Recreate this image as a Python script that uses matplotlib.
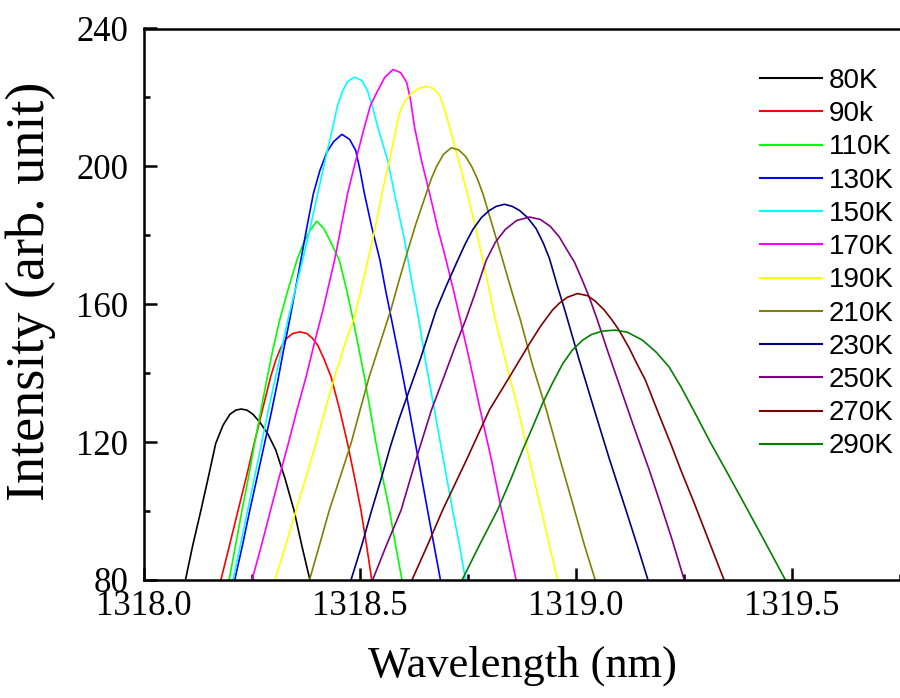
import matplotlib
matplotlib.use("Agg")
import matplotlib.pyplot as plt
from matplotlib.ticker import MultipleLocator

labels = ["80K", "90k", "110K", "130K", "150K", "170K", "190K", "210K",
          "230K", "250K", "270K", "290K"]
colors = ["#000000", "#ff0000", "#00ff00", "#0000ff", "#00ffff", "#ff00ff",
          "#ffff00", "#808000", "#000080", "#800080", "#800000", "#008000"]

x80 = [1318.097, 1318.114, 1318.133, 1318.151, 1318.167, 1318.184, 1318.200,
       1318.214, 1318.226, 1318.239, 1318.253, 1318.269, 1318.288, 1318.306,
       1318.327, 1318.348, 1318.366, 1318.385]
y80 = [80, 90.1, 100.3, 110.4, 119.6, 124.9, 128.1, 129.3, 129.6, 129.3,
       128.1, 125.8, 122.3, 117.7, 109.6, 100.3, 90.1, 80]

x90 = [1318.179, 1318.199, 1318.219, 1318.238, 1318.256, 1318.275, 1318.294,
       1318.306, 1318.318, 1318.331, 1318.345, 1318.362, 1318.378, 1318.391,
       1318.403, 1318.417, 1318.434, 1318.454, 1318.472, 1318.488, 1318.503,
       1318.516, 1318.528]
y90 = [80, 90.1, 100.3, 109.9, 119.6, 129.3, 138.9, 143.8, 147.5, 150.1,
       151.5, 152.0, 151.5, 150.1, 148.1, 144.3, 138.9, 129.3, 119.6, 109.9,
       100.3, 90.1, 80]

x110 = [1318.198, 1318.213, 1318.228, 1318.243, 1318.257, 1318.271, 1318.285,
        1318.299, 1318.315, 1318.334, 1318.355, 1318.371, 1318.385, 1318.401,
        1318.417, 1318.431, 1318.453, 1318.470, 1318.485, 1318.498, 1318.511,
        1318.538, 1318.553, 1318.569, 1318.583, 1318.598]
y110 = [80, 90.1, 100.3, 109.9, 119.6, 128.8, 138.0, 146.7, 155.4, 164.1,
        172.8, 178.0, 181.4, 184.1, 182.0, 178.6, 172.8, 164.1, 155.4, 147.2,
        138.9, 119.6, 109.9, 100.3, 90.1, 80]

x130 = [1318.211, 1318.229, 1318.246, 1318.263, 1318.280, 1318.296, 1318.311,
        1318.324, 1318.338, 1318.351, 1318.364, 1318.378, 1318.393, 1318.408,
        1318.424, 1318.440, 1318.459, 1318.477, 1318.491, 1318.501, 1318.511,
        1318.528, 1318.547, 1318.560, 1318.574, 1318.595, 1318.615, 1318.636,
        1318.657, 1318.672, 1318.687]
y130 = [80, 90.1, 100.3, 109.9, 119.6, 128.8, 138.0, 146.7, 155.4, 164.1,
        172.8, 182.4, 192.1, 198.8, 204.1, 207.2, 209.3, 207.8, 204.6, 198.8,
        192.1, 182.4, 172.8, 164.1, 155.4, 142.3, 129.3, 114.8, 100.3, 90.1, 80]

x150 = [1318.207, 1318.224, 1318.241, 1318.257, 1318.273, 1318.288, 1318.304,
        1318.319, 1318.334, 1318.351, 1318.368, 1318.386, 1318.403, 1318.420,
        1318.438, 1318.449, 1318.461, 1318.472, 1318.488, 1318.505, 1318.518,
        1318.530, 1318.542, 1318.553, 1318.565, 1318.583, 1318.604, 1318.620,
        1318.637, 1318.652, 1318.673, 1318.694, 1318.715, 1318.731, 1318.745]
y150 = [80, 90.1, 100.3, 109.9, 119.6, 128.8, 138.0, 146.7, 155.4, 164.1,
        172.8, 182.4, 192.1, 201.7, 211.4, 217.7, 222.0, 224.6, 225.9, 224.9,
        222.0, 217.1, 211.4, 206.7, 201.7, 190.7, 178.6, 167.0, 155.4, 143.8,
        129.3, 114.8, 100.3, 90.1, 80]

x170 = [1318.251, 1318.273, 1318.294, 1318.314, 1318.335, 1318.355, 1318.376,
        1318.395, 1318.415, 1318.442, 1318.457, 1318.472, 1318.491, 1318.511,
        1318.525, 1318.542, 1318.558, 1318.577, 1318.595, 1318.609, 1318.618,
        1318.627, 1318.643, 1318.662, 1318.680, 1318.700, 1318.717, 1318.733,
        1318.754, 1318.779, 1318.805, 1318.828, 1318.845, 1318.862]
y170 = [80, 90.1, 100.3, 109.9, 119.6, 129.3, 138.9, 148.6, 158.3, 172.8,
        182.4, 192.1, 201.7, 211.4, 217.7, 222.0, 225.8, 228.1, 227.2, 224.3,
        219.1, 211.4, 201.7, 192.1, 182.4, 172.8, 164.1, 155.4, 143.8, 129.3,
        114.8, 100.3, 90.1, 80]

x190 = [1318.304, 1318.329, 1318.353, 1318.376, 1318.399, 1318.420, 1318.442,
        1318.465, 1318.489, 1318.514, 1318.538, 1318.553, 1318.569, 1318.592,
        1318.604, 1318.619, 1318.636, 1318.655, 1318.671, 1318.685, 1318.696,
        1318.708, 1318.729, 1318.749, 1318.768, 1318.785, 1318.800, 1318.814,
        1318.840, 1318.867, 1318.893, 1318.920, 1318.939, 1318.958]
y190 = [80, 90.1, 100.3, 109.9, 119.6, 129.3, 138.9, 148.1, 156.8, 169.9,
        183.4, 193.0, 201.7, 215.4, 218.8, 221.1, 222.6, 223.2, 222.6, 220.6,
        216.8, 211.4, 201.7, 192.1, 182.4, 172.8, 164.1, 155.4, 142.3, 129.3,
        114.8, 100.3, 90.1, 80]

x210 = [1318.384, 1318.407, 1318.430, 1318.455, 1318.480, 1318.501, 1318.522,
        1318.547, 1318.572, 1318.588, 1318.606, 1318.629, 1318.654, 1318.666,
        1318.678, 1318.694, 1318.712, 1318.729, 1318.745, 1318.759, 1318.773,
        1318.785, 1318.807, 1318.831, 1318.851, 1318.872, 1318.900, 1318.932,
        1318.964, 1318.997, 1319.020, 1319.045]
y210 = [80, 90.1, 100.3, 109.9, 119.6, 129.3, 138.9, 148.6, 158.3, 165.5,
        173.3, 182.9, 192.1, 196.5, 200.0, 203.5, 205.4, 204.8, 202.9, 200.0,
        196.2, 192.1, 182.9, 172.8, 164.1, 155.4, 142.3, 129.3, 114.8, 100.3,
        90.1, 80]

x230 = [1318.480, 1318.505, 1318.528, 1318.551, 1318.572, 1318.592, 1318.615,
        1318.641, 1318.677, 1318.701, 1318.727, 1318.745, 1318.762, 1318.782,
        1318.800, 1318.816, 1318.835, 1318.853, 1318.870, 1318.888, 1318.908,
        1318.925, 1318.939, 1318.957, 1318.976, 1319.008, 1319.043, 1319.077,
        1319.116, 1319.142, 1319.167]
y230 = [80, 90.1, 100.3, 109.9, 119.1, 127.0, 135.1, 144.3, 158.3, 165.5,
        172.8, 177.7, 181.7, 185.2, 187.2, 188.4, 189.0, 188.4, 187.2, 185.2,
        182.0, 177.7, 173.3, 165.5, 157.7, 143.8, 129.3, 115.4, 100.3, 90.1, 80]

x250 = [1318.530, 1318.562, 1318.596, 1318.630, 1318.666, 1318.694, 1318.722,
        1318.745, 1318.768, 1318.793, 1318.814, 1318.837, 1318.863, 1318.893,
        1318.918, 1318.941, 1318.962, 1318.980, 1318.997, 1319.015, 1319.031,
        1319.050, 1319.073, 1319.097, 1319.133, 1319.170, 1319.197, 1319.223,
        1319.251]
y250 = [80, 90.1, 100.3, 114.8, 129.3, 138.6, 148.1, 155.4, 163.5, 172.8,
        178.0, 181.7, 184.3, 185.3, 184.6, 182.6, 179.5, 175.7, 172.2, 167.0,
        162.1, 155.4, 146.7, 138.0, 124.9, 111.9, 101.7, 91.6, 80]

x270 = [1318.621, 1318.657, 1318.692, 1318.747, 1318.800, 1318.849, 1318.893,
        1318.920, 1318.946, 1318.962, 1318.980, 1319.004, 1319.027, 1319.045,
        1319.066, 1319.084, 1319.100, 1319.124, 1319.142, 1319.161, 1319.193,
        1319.221, 1319.243, 1319.274, 1319.308, 1319.343]
y270 = [80, 90.1, 100.3, 114.8, 129.3, 139.4, 148.6, 153.9, 158.3, 160.3,
        162.0, 163.1, 162.5, 160.9, 158.3, 155.4, 152.5, 147.2, 142.6, 138.0,
        127.8, 119.1, 111.9, 102.3, 91.3, 80]

x290 = [1318.737, 1318.777, 1318.819, 1318.849, 1318.877, 1318.900, 1318.923,
        1318.946, 1318.970, 1318.992, 1319.016, 1319.036, 1319.061, 1319.091,
        1319.119, 1319.154, 1319.186, 1319.216, 1319.244, 1319.276, 1319.311,
        1319.347, 1319.389, 1319.431, 1319.485]
y290 = [80, 90.1, 100.3, 109.0, 117.7, 124.3, 131.2, 137.1, 142.8, 146.7,
        149.6, 151.2, 152.2, 152.5, 151.9, 149.6, 146.1, 141.8, 135.9, 128.4,
        120.0, 111.9, 102.3, 92.6, 80]

xs = [x80, x90, x110, x130, x150, x170, x190, x210, x230, x250, x270, x290]
ys = [y80, y90, y110, y130, y150, y170, y190, y210, y230, y250, y270, y290]

xticks = [1318.0, 1318.5, 1319.0, 1319.5]
xticklabels = ["1318.0", "1318.5", "1319.0", "1319.5"]
yticks = [80, 120, 160, 200, 240]

fig = plt.figure(figsize=(9, 6.98), dpi=100)
ax = fig.add_axes([143.5 / 900, 1 - 580 / 698, 1 - 143.5 / 900, (580 - 28.5) / 698])

for x, y, c, l in zip(xs, ys, colors, labels):
    ax.plot(x, y, color=c, lw=1.2, label=l, solid_joinstyle="round")

ax.set_xlim(1318.0, 1319.75)
ax.set_ylim(80, 240)
ax.set_xticks(xticks)
ax.set_xticklabels(xticklabels)
ax.set_yticks(yticks)
ax.xaxis.set_minor_locator(MultipleLocator(0.25))
ax.yaxis.set_minor_locator(MultipleLocator(20))

serif = "Liberation Serif"
for t in ax.get_xticklabels() + ax.get_yticklabels():
    t.set_fontfamily(serif)
    t.set_fontsize(25)

ax.tick_params(which="major", direction="in", length=9, width=1.8)
ax.tick_params(which="minor", direction="in", length=4.5, width=1.8)
ax.tick_params(axis="x", which="major", pad=7.5)
ax.tick_params(axis="y", which="major", pad=11)
ax.tick_params(top=False, right=False)

for s in ["left", "bottom", "top"]:
    ax.spines[s].set_linewidth(1.8)
ax.spines["right"].set_visible(False)

fig.text(523 / 900, 1 - 666 / 698, "Wavelength (nm)", family=serif,
         fontsize=32, ha="center", va="center")
fig.text(31 / 900, 1 - 291 / 698, "Intensity (arb. unit)", family=serif,
         fontsize=39, rotation=90, ha="center", va="center")

leg = ax.legend(loc="upper left", bbox_to_anchor=(760 / 900, 1 - 68 / 698),
                bbox_transform=fig.transFigure, frameon=False,
                prop={"family": "Liberation Sans", "size": 20},
                handlelength=2.23, handletextpad=0.25, labelspacing=0.26,
                borderpad=0, borderaxespad=0)
for h in leg.get_lines():
    h.set_linewidth(1.5)

fig.savefig("out.png", dpi=100)
